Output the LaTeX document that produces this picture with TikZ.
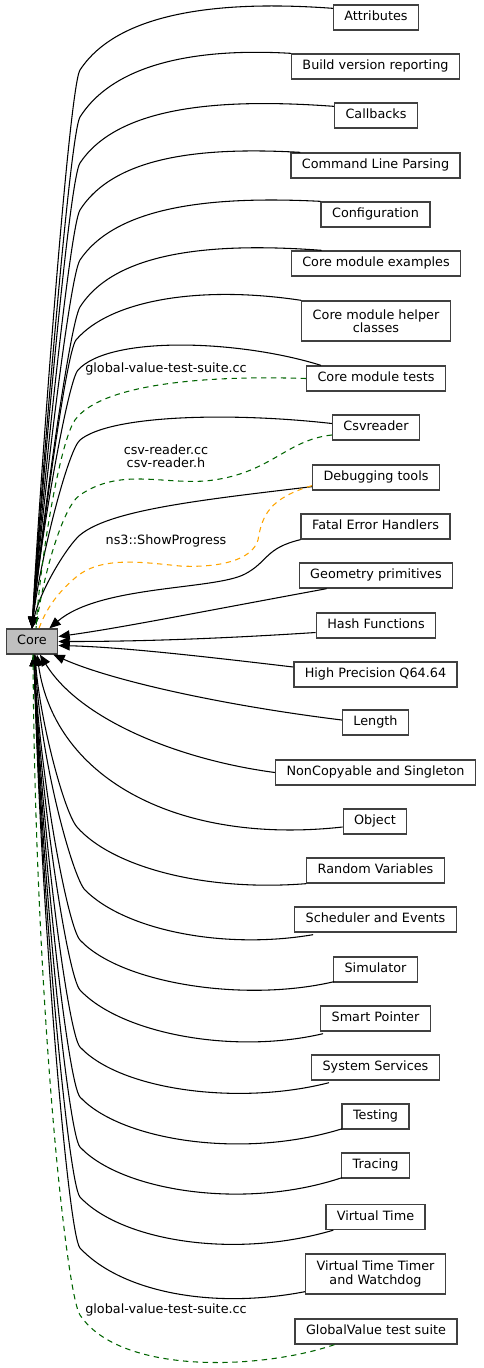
\documentclass[tikz,border=0pt]{standalone}
\usepackage{fontspec}
\setmainfont{DejaVu Sans}
\usetikzlibrary{arrows.meta,calc}

\definecolor{boxline}{RGB}{64,64,64}
\definecolor{corefill}{RGB}{191,191,191}
\definecolor{filegreen}{RGB}{0,100,0}
\definecolor{showorange}{RGB}{255,165,0}

\tikzset{
  grp/.style={draw=boxline, fill=white, line width=1pt, inner xsep=8.2pt, inner ysep=0pt,
    minimum height=18.75pt, font=\fontsize{9.6}{10}\selectfont, text height=7pt, text depth=2.3pt},
  grptwo/.style={draw=boxline, fill=white, line width=1pt, inner xsep=8.2pt, inner ysep=0pt,
    minimum height=30pt, align=center, font=\fontsize{9.6}{10}\selectfont},
  corebox/.style={grp, fill=corefill},
  elabel/.style={inner sep=0pt, font=\fontsize{9.6}{10}\selectfont, align=center},
  dep/.style={line width=0.8pt, -{Triangle[length=8.5pt,width=7pt]}},
  filedep/.style={line width=0.8pt, filegreen, dash pattern=on 4pt off 3.4pt},
  showdep/.style={line width=0.8pt, showorange, dash pattern=on 4pt off 3.4pt}
}

\begin{document}
\begin{tikzpicture}[x=0.75pt, y=-0.75pt]
    \useasboundingbox (0,0) rectangle (483,1368);
    % groups
    \node[corebox] (core) at (32,641.5) {Core};
    \node[grp] (attr) at (376,17.5) {Attributes};
    \node[grp] (build) at (375.5,66.5) {Build version reporting};
    \node[grp] (callb) at (376,115.5) {Callbacks};
    \node[grp] (cmdl) at (375.5,165.5) {Command Line Parsing};
    \node[grp] (config) at (375.5,214.5) {Configuration};
    \node[grp] (cmex) at (376,263.5) {Core module examples};
    \node[grptwo] (cmhelp) at (376,321) {Core module helper\\classes};
    \node[grp] (cmtest) at (376,378.5) {Core module tests};
    \node[grp] (csv) at (376,427.5) {Csvreader};
    \node[grp] (debug) at (376,477.5) {Debugging tools};
    \node[grp] (fatal) at (375.5,526.5) {Fatal Error Handlers};
    \node[grp] (geom) at (376,575.5) {Geometry primitives};
    \node[grp] (hash) at (376,625.5) {Hash Functions};
    \node[grp] (hprec) at (375.5,674.5) {High Precision Q64.64};
    \node[grp] (len) at (375.5,722.5) {Length};
    \node[grp] (noncopy) at (375.5,772.5) {NonCopyable and Singleton};
    \node[grp] (object) at (375,821.5) {Object};
    \node[grp] (random) at (375.5,870.5) {Random Variables};
    \node[grp] (sched) at (375.5,919.5) {Scheduler and Events};
    \node[grp] (simu) at (375.5,969.5) {Simulator};
    \node[grp] (smartp) at (375.5,1018.5) {Smart Pointer};
    \node[grp] (syssvc) at (375.5,1067.5) {System Services};
    \node[grp] (testing) at (375.5,1116.5) {Testing};
    \node[grp] (tracing) at (375.5,1165.5) {Tracing};
    \node[grp] (vtime) at (375.5,1217) {Virtual Time};
    \node[grptwo] (vtimer) at (375.5,1274) {Virtual Time Timer\\and Watchdog};
    \node[grp] (gvtest) at (376,1331.5) {GlobalValue test suite};

    % edge labels
    \node[elabel] (lblgvone) at (166,369) {global-value-test-suite.cc};
    \node[elabel] (lblcsv) at (166,456) {csv-reader.cc\\csv-reader.h};
    \node[elabel] (lblshow) at (166,541) {ns3::ShowProgress};
    \node[elabel] (lblgvtwo) at (166,1309.5) {global-value-test-suite.cc};

    % groups above Core
    \draw[dep] ($(attr.north west)+(0,4)$) .. controls (220,0) and (118,12) .. (80,70) .. controls (69,87) and (40,480) .. (core.north);
    \draw[dep] (build.north west) .. controls (200,48) and (115,62) .. (80,117) .. controls (69.5,133.5) and (40,500) .. (core.north);
    \draw[dep] ($(callb.north west)+(0,4)$) .. controls (220,98) and (118,106) .. (80,163) .. controls (68.6,180) and (40,510) .. (core.north);
    \draw[dep] ($(cmdl.north west)+(10,0)$) .. controls (205,147) and (115,155) .. (80,210) .. controls (69.5,226.5) and (40,520) .. (core.north);
    \draw[dep] (config.north west) .. controls (215,196) and (117,205) .. (80,260) .. controls (69,276.5) and (40,530) .. (core.north);
    \draw[dep] ($(cmex.north west)+(31,0)$) .. controls (210,242) and (115,252) .. (80,307) .. controls (69.5,323.5) and (40,540) .. (core.north);
    \draw[dep] (cmhelp.north west) .. controls (200,285) and (110,300) .. (76,340) .. controls (66,352) and (40,550) .. (core.north);
    \draw[dep] ($(cmtest.north west)+(15,0)$) .. controls (240,340) and (110,335) .. (78,370) .. controls (68,380.5) and (40,540) .. (core.north);
    \draw[dep] ($(csv.west)+(0,-4)$) .. controls (230,412) and (110,415) .. (80,440) .. controls (68,450) and (40,560) .. (core.north);
    \draw[dep] ($(debug.south west)+(0,-4)$) .. controls (200,500) and (110,510) .. (80,535) .. controls (68,545) and (40,590) .. (core.north);
    \draw[dep] (fatal.south west) .. controls (265,548) and (268,562) .. (245,574) .. controls (215,590) and (100,585) .. ($(core.north east)+(-9,0)$);
    % beside Core
    \draw[dep] ($(geom.south west)+(28,0)$) .. controls (200,612) and (120,628) .. ($(core.east)+(0,-5)$);
    \draw[dep] ($(hash.west)+(0,7)$) .. controls (200,640) and (120,641.5) .. (core.east);
    \draw[dep] ($(hprec.west)+(0,-7.5)$) .. controls (200,656) and (120,647) .. ($(core.east)+(0,4)$);
    \draw[dep] ($(len.west)+(0,-2.5)$) .. controls (220,705) and (110,680) .. ($(core.south east)+(-5,0)$);
    % groups below Core
    \draw[dep] (noncopy.west) .. controls (180,760) and (80,720) .. ($(core.south)+(8,0)$);
    \draw[dep] ($(object.west)+(0,5.5)$) .. controls (180,845) and (55,780) .. ($(core.south)+(5,0)$);
    \draw[dep] (random.south west) .. controls (200,892) and (110,865) .. (77,827) .. controls (64,812) and (40,720) .. ($(core.south)+(3,0)$);
    \draw[dep] ($(sched.south west)+(19,2)$) .. controls (223,950) and (125,930) .. (85,890) .. controls (73,878) and (40,760) .. ($(core.south)+(3,0)$);
    \draw[dep] ($(simu.south west)+(1,-1)$) .. controls (243,1003) and (120,983) .. (80,940) .. controls (68,927) and (40,780) .. ($(core.south)+(2,0)$);
    \draw[dep] ($(smartp.south west)+(3,2)$) .. controls (232,1055) and (120,1033) .. (80,990) .. controls (68,977) and (40,800) .. ($(core.south)+(2,0)$);
    \draw[dep] ($(syssvc.south west)+(18,2)$) .. controls (238,1106) and (120,1090) .. (80,1047) .. controls (68,1034) and (40,820) .. ($(core.south)+(2,0)$);
    \draw[dep] ($(testing.south west)+(1,-1)$) .. controls (242,1160) and (120,1140) .. (80,1097) .. controls (68,1084) and (40,840) .. ($(core.south)+(2,0)$);
    \draw[dep] ($(tracing.south west)+(1,-1)$) .. controls (242,1211) and (120,1190) .. (80,1147) .. controls (68,1134) and (40,860) .. ($(core.south)+(2,0)$);
    \draw[dep] ($(vtime.south west)+(8,0)$) .. controls (232,1260) and (120,1240) .. (80,1197) .. controls (68,1184) and (40,880) .. ($(core.south)+(2,0)$);
    \draw[dep] ($(vtimer.south west)+(0,-3)$) .. controls (210,1310) and (120,1291) .. (80,1248) .. controls (68,1235) and (40,900) .. ($(core.south)+(2,0)$);

    % file and member links
    \draw[filedep] (cmtest.west) .. controls (200,375) and (100,385) .. (75,420) .. controls (60,441) and (40,560) .. ($(core.north)+(4,0)$);
    \draw[filedep] ($(csv.west)+(0,7.5)$) .. controls (285,440) and (270,475) .. (205,481) .. controls (160,484) and (120,468) .. (80,495) .. controls (62,507) and (42,580) .. ($(core.north)+(4,0)$);
    \draw[showdep] ($(debug.south west)+(0,-5)$) .. controls (270,498) and (262,515) .. (258,540) .. controls (252,560) and (220,568) .. (180,566) .. controls (140,562) and (100,556) .. (75,578) .. controls (55,595) and (45,612) .. ($(core.north)+(7,0)$);
    \draw[filedep] ($(gvtest.south west)+(40,0)$) .. controls (260,1370) and (120,1375) .. (80,1315) .. controls (66,1294) and (35,1000) .. ($(core.south)+(1,0)$);
\end{tikzpicture}
\end{document}
